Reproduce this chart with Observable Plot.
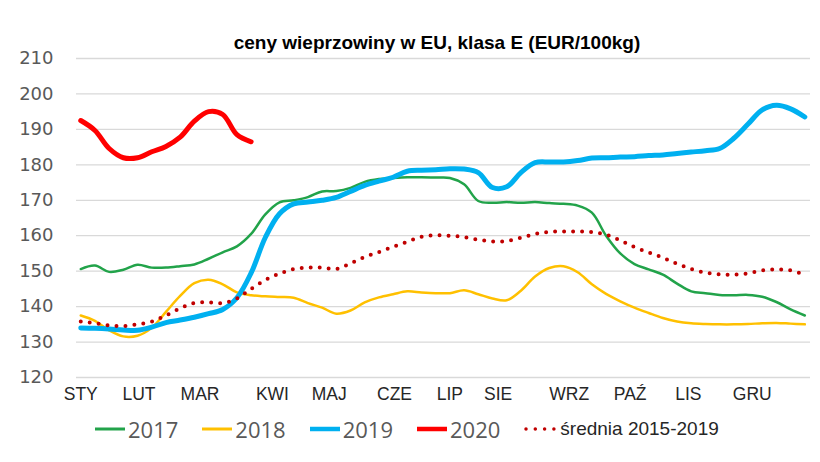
<!DOCTYPE html>
<html><head><meta charset="utf-8">
<script src="https://cdn.jsdelivr.net/npm/d3@7"></script>
<script src="https://cdn.jsdelivr.net/npm/@observablehq/plot@0.6"></script>
<style>
body{margin:0;background:#fff;width:820px;height:462px;overflow:hidden;}
#title{padding-top:32px;height:20px;line-height:20px;text-align:center;font:bold 19px "Liberation Sans",Arial,sans-serif;color:#000;padding-left:54px;white-space:nowrap;}
#legend{height:30px;display:flex;align-items:center;padding-left:95px;gap:24px;}
.item{display:flex;align-items:center;}
.item svg{display:block;}
.yr{font:22px "Open Sans",sans-serif;color:#595959;margin-left:3px;line-height:30px;}
.avg{font:19px "Liberation Sans",Arial,sans-serif;color:#262626;margin-left:4px;line-height:30px;}
</style></head>
<body>
<div id="title">ceny wieprzowiny w EU, klasa E (EUR/100kg)</div>
<div id="chart"></div>
<div id="legend"></div>
<script>
const monthLabels = ["STY","LUT","MAR","KWI","MAJ","CZE","LIP","SIE","WRZ","PAŹ","LIS","GRU"];
const monthPos = [1, 5.1, 9.4, 14.5, 18.5, 23.1, 27, 30.4, 35.4, 39.7, 43.8, 48.3];
const yTicks = [120,130,140,150,160,170,180,190,200,210];

const v2017 = [150.6,151.6,149.8,150.4,151.8,151.0,151.0,151.4,151.9,153.5,155.3,157.0,160.5,166.0,169.4,170.0,170.9,172.5,172.6,173.5,175.2,176.0,176.3,176.5,176.5,176.4,176.3,174.5,169.8,169.3,169.5,169.3,169.5,169.2,169.0,168.5,166.5,160.0,155.0,152.0,150.5,149.0,146.5,144.3,143.8,143.3,143.2,143.3,142.8,141.3,139.2,137.5];
const v2018 = [137.5,136.0,133.3,131.6,131.8,134.0,138.5,143.0,146.6,147.6,146.3,144.0,143.2,142.9,142.7,142.5,141.0,139.7,138.0,138.9,141.2,142.6,143.5,144.3,144.0,143.8,143.8,144.6,143.5,142.3,141.8,144.5,148.5,150.9,151.4,149.7,146.3,143.6,141.5,139.7,138.2,136.8,135.8,135.3,135.1,135.0,135.0,135.1,135.3,135.4,135.2,135.0];
const v2019 = [134.0,133.9,133.7,133.4,133.3,134.2,135.5,136.2,137.0,138.0,139.2,142.5,149.5,159.5,166.2,169.0,169.5,170.0,170.8,172.5,174.2,175.4,176.5,178.2,178.5,178.6,178.9,178.8,177.8,173.6,173.8,177.8,180.6,180.8,180.8,181.2,181.9,182.0,182.2,182.3,182.6,182.8,183.2,183.6,184.0,184.6,187.5,191.5,195.5,196.8,195.8,193.5];
const v2020 = [192.5,189.7,184.6,182.0,182.0,183.7,185.2,187.8,192.3,195.0,194.2,188.5,186.5];
const vAvg = [135.8,135.3,134.7,134.5,135.0,135.8,137.5,139.5,141.0,141.2,141.0,142.3,145.0,147.5,149.3,150.6,151.0,151.0,150.6,152.2,154.0,155.4,156.9,158.3,159.7,160.1,160.0,159.6,158.9,158.4,158.5,159.4,160.5,161.1,161.2,161.2,161.0,160.3,158.7,156.8,155.3,153.8,152.1,150.6,149.6,149.1,149.0,149.4,150.2,150.5,150.2,149.0];

const seriesNames = ["2017","2018","2019","2020"];
const seriesColors = ["#22a34a","#ffc000","#00b0f0","#ff0000"];
const seriesWidths = [2.5,2.5,5,5];
const avgName = "średnia 2015-2019";
const avgColor = "#c00000";

const toRows = vals => vals.map((v, i) => ({week: i + 1, value: v}));
const allSeries = [v2017, v2018, v2019, v2020];

const marks = [
  Plot.ruleY(yTicks, {stroke: "#d9d9d9", strokeWidth: 1.3}),
  Plot.axisY({ticks: yTicks, tickSize: 0, tickPadding: 23, fontSize: 18, fontFamily: "DejaVu Sans", color: "#595959", label: null}),
  Plot.axisX({ticks: monthPos, tickFormat: d => monthLabels[monthPos.indexOf(d)], tickSize: 0, tickPadding: 10, fontSize: 17.5, fontFamily: "Liberation Sans", color: "#262626", label: null})
];
allSeries.forEach((vals, k) => {
  marks.push(Plot.line(toRows(vals), {x: "week", y: "value", stroke: seriesColors[k], strokeWidth: seriesWidths[k], curve: "catmull-rom", strokeLinecap: "round"}));
});
marks.push(Plot.line(toRows(vAvg), {x: "week", y: "value", stroke: avgColor, strokeWidth: 4, strokeDasharray: "0 9", strokeLinecap: "round", curve: "catmull-rom"}));

const chart = Plot.plot({
  width: 820, height: 362,
  marginLeft: 76, marginRight: 10, marginTop: 6, marginBottom: 37,
  style: {overflow: "visible", background: "transparent"},
  x: {domain: [0.7, 52.4]},
  y: {domain: [120, 210]},
  marks
});
document.getElementById("chart").appendChild(chart);

const legend = document.getElementById("legend");
seriesNames.forEach((name, k) => {
  const it = document.createElement("div");
  it.className = "item";
  it.innerHTML = `<svg width="30" height="10"><line x1="0" x2="30" y1="5" y2="5" stroke="${seriesColors[k]}" stroke-width="${seriesWidths[k] === 5 ? 4.5 : 3}"/></svg><span class="yr">${name}</span>`;
  legend.appendChild(it);
});
const av = document.createElement("div");
av.className = "item";
av.innerHTML = `<svg width="32" height="10"><line x1="2" x2="30" y1="5" y2="5" stroke="${avgColor}" stroke-width="3.5" stroke-dasharray="0 9.3" stroke-linecap="round"/></svg><span class="avg">${avgName}</span>`;
legend.appendChild(av);
</script>
</body></html>
